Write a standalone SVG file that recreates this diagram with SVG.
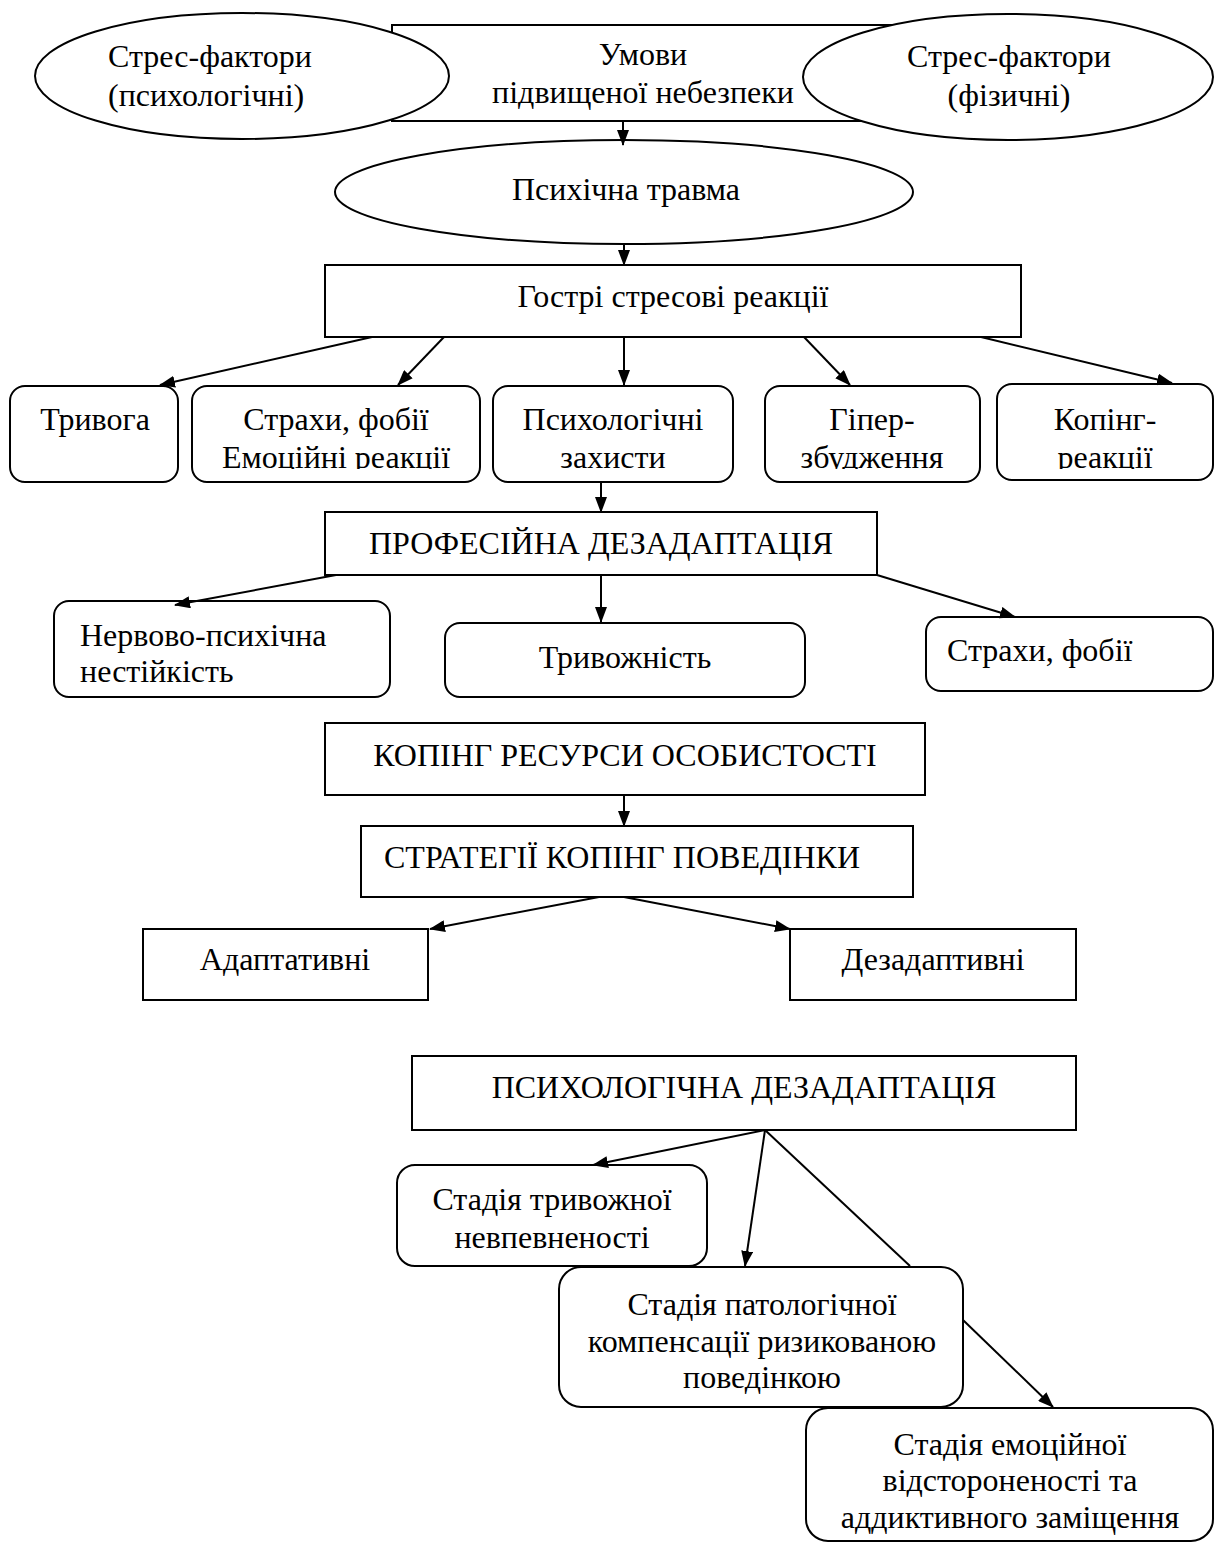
<svg xmlns="http://www.w3.org/2000/svg" width="1214" height="1543" viewBox="0 0 1214 1543">
<style>
.b{fill:#fff;stroke:#000;stroke-width:2}
.t{font-family:"Liberation Serif","Times New Roman",serif;font-size:32px;fill:#000}
.m{text-anchor:middle}
.c{fill:none;stroke:#000;stroke-width:2}
</style>
<defs>
<marker id="ar" markerUnits="userSpaceOnUse" markerWidth="16" markerHeight="12" refX="15" refY="6" orient="auto">
<path d="M0,0 L16,6 L0,12 Z" fill="#000"/>
</marker>
<clipPath id="clipRow"><rect x="0" y="0" width="1214" height="469"/></clipPath>
</defs>
<rect width="1214" height="1543" fill="#fff"/>

<g id="n-umovy">
<rect class="b" x="392" y="25" width="540" height="96"/>
<text class="t m" x="643" y="65">Умови</text>
<text class="t m" x="643" y="103">підвищеної небезпеки</text>
</g>
<g id="n-stress-psy">
<ellipse class="b" cx="242" cy="76" rx="207" ry="63"/>
<text class="t" x="108" y="67">Стрес-фактори</text>
<text class="t" x="108" y="106">(психологічні)</text>
</g>
<g id="n-stress-phys">
<ellipse class="b" cx="1008" cy="77" rx="205" ry="63"/>
<text class="t m" x="1009" y="67">Стрес-фактори</text>
<text class="t m" x="1009" y="106">(фізичні)</text>
</g>
<g id="n-trauma">
<ellipse class="b" cx="624" cy="192" rx="289" ry="52"/>
<text class="t m" x="626" y="200">Психічна травма</text>
</g>
<g id="n-acute">
<rect class="b" x="325" y="265" width="696" height="72"/>
<text class="t m" x="673" y="307">Гострі стресові реакції</text>
</g>
<g id="n-tryvoha">
<rect class="b" x="10" y="386" width="168" height="96" rx="15"/>
<text class="t m" x="95" y="430">Тривога</text>
</g>
<g id="n-strakhy1">
<rect class="b" x="192" y="386" width="288" height="96" rx="15"/>
<text class="t m" x="336" y="430">Страхи, фобії</text>
<text class="t m" x="336" y="468" clip-path="url(#clipRow)">Емоційні реакції</text>
</g>
<g id="n-zakhysty">
<rect class="b" x="493" y="386" width="240" height="96" rx="15"/>
<text class="t m" x="613" y="430">Психологічні</text>
<text class="t m" x="613" y="468" clip-path="url(#clipRow)">захисти</text>
</g>
<g id="n-hiper">
<rect class="b" x="765" y="386" width="215" height="96" rx="15"/>
<text class="t m" x="872" y="430">Гіпер-</text>
<text class="t m" x="872" y="468" clip-path="url(#clipRow)">збудження</text>
</g>
<g id="n-koping-r">
<rect class="b" x="997" y="384" width="216" height="96" rx="15"/>
<text class="t m" x="1105" y="430">Копінг-</text>
<text class="t m" x="1105" y="468" clip-path="url(#clipRow)">реакції</text>
</g>
<g id="n-prof">
<rect class="b" x="325" y="512" width="552" height="63"/>
<text class="t m" x="601" y="554">ПРОФЕСІЙНА ДЕЗАДАПТАЦІЯ</text>
</g>
<g id="n-nervovo">
<rect class="b" x="54" y="601" width="336" height="96" rx="15"/>
<text class="t" x="80" y="646">Нервово-психічна</text>
<text class="t" x="80" y="682">нестійкість</text>
</g>
<g id="n-tryvozhnist">
<rect class="b" x="445" y="623" width="360" height="74" rx="15"/>
<text class="t m" x="625" y="668">Тривожність</text>
</g>
<g id="n-strakhy2">
<rect class="b" x="926" y="617" width="287" height="74" rx="15"/>
<text class="t" x="947" y="661">Страхи, фобії</text>
</g>
<g id="n-resursy">
<rect class="b" x="325" y="723" width="600" height="72"/>
<text class="t m" x="625" y="766">КОПІНГ РЕСУРСИ ОСОБИСТОСТІ</text>
</g>
<g id="n-stratehii">
<rect class="b" x="361" y="826" width="552" height="71"/>
<text class="t m" x="622" y="868">СТРАТЕГІЇ КОПІНГ ПОВЕДІНКИ</text>
</g>
<g id="n-adapt">
<rect class="b" x="143" y="929" width="285" height="71"/>
<text class="t m" x="285" y="970">Адаптативні</text>
</g>
<g id="n-dezadapt">
<rect class="b" x="790" y="929" width="286" height="71"/>
<text class="t m" x="933" y="970">Дезадаптивні</text>
</g>
<g id="n-psy-dez">
<rect class="b" x="412" y="1056" width="664" height="74"/>
<text class="t m" x="744" y="1098">ПСИХОЛОГІЧНА ДЕЗАДАПТАЦІЯ</text>
</g>
<g id="n-stage1">
<rect class="b" x="397" y="1165" width="310" height="101" rx="18"/>
<text class="t m" x="552" y="1210">Стадія тривожної</text>
<text class="t m" x="552" y="1248">невпевненості</text>
</g>
<g id="n-stage2">
<rect class="b" x="559" y="1267" width="404" height="140" rx="22"/>
<text class="t m" x="762" y="1315">Стадія патологічної</text>
<text class="t m" x="762" y="1352">компенсації ризикованою</text>
<text class="t m" x="762" y="1388">поведінкою</text>
</g>
<g id="n-stage3">
<rect class="b" x="806" y="1408" width="407" height="133" rx="22"/>
<text class="t m" x="1010" y="1455">Стадія емоційної</text>
<text class="t m" x="1010" y="1491">відстороненості та</text>
<text class="t m" x="1010" y="1528">аддиктивного заміщення</text>
</g>

<g id="connectors">
<line class="c" x1="623" y1="121" x2="623" y2="145" marker-end="url(#ar)"/>
<line class="c" x1="624" y1="244" x2="624" y2="265" marker-end="url(#ar)"/>
<line class="c" x1="372" y1="337" x2="160" y2="385" marker-end="url(#ar)"/>
<line class="c" x1="444" y1="337" x2="398" y2="385" marker-end="url(#ar)"/>
<line class="c" x1="624" y1="337" x2="624" y2="385" marker-end="url(#ar)"/>
<line class="c" x1="804" y1="337" x2="850" y2="385" marker-end="url(#ar)"/>
<line class="c" x1="981" y1="337" x2="1172" y2="383" marker-end="url(#ar)"/>
<line class="c" x1="601" y1="482" x2="601" y2="512" marker-end="url(#ar)"/>
<line class="c" x1="336" y1="575" x2="175" y2="605" marker-end="url(#ar)"/>
<line class="c" x1="601" y1="575" x2="601" y2="622" marker-end="url(#ar)"/>
<line class="c" x1="877" y1="575" x2="1015" y2="617" marker-end="url(#ar)"/>
<line class="c" x1="624" y1="795" x2="624" y2="826" marker-end="url(#ar)"/>
<line class="c" x1="599" y1="897" x2="430" y2="929" marker-end="url(#ar)"/>
<line class="c" x1="624" y1="897" x2="790" y2="929" marker-end="url(#ar)"/>
<line class="c" x1="765" y1="1130" x2="593" y2="1165" marker-end="url(#ar)"/>
<line class="c" x1="765" y1="1130" x2="745" y2="1266" marker-end="url(#ar)"/>
<line class="c" x1="765" y1="1130" x2="910" y2="1266"/>
<line class="c" x1="963" y1="1320" x2="1053" y2="1407" marker-end="url(#ar)"/>
</g>
</svg>
